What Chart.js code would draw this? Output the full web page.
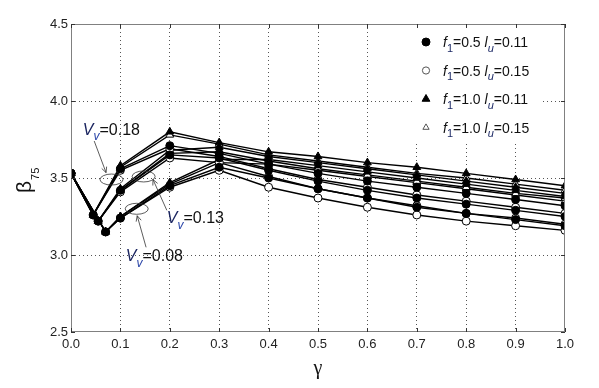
<!DOCTYPE html>
<html>
<head>
<meta charset="utf-8">
<script src="https://cdn.jsdelivr.net/npm/chart.js@4.4.0/dist/chart.umd.min.js"></script>
<style>
html,body{margin:0;padding:0;background:#fff;overflow:hidden}
#wrap{width:599px;height:388px}
</style>
</head>
<body>
<div id="wrap"><canvas id="chart" width="599" height="388"></canvas></div>
<script>
// gamma positions per vv group (the dip point sits at a slightly different gamma)
const gammaV18 = [0, 0.045, 0.1, 0.2, 0.3, 0.4, 0.5, 0.6, 0.7, 0.8, 0.9, 1.0];
const gammaV13 = [0, 0.055, 0.1, 0.2, 0.3, 0.4, 0.5, 0.6, 0.7, 0.8, 0.9, 1.0];
const gammaV08 = [0, 0.07, 0.1, 0.2, 0.3, 0.4, 0.5, 0.6, 0.7, 0.8, 0.9, 1.0];

// beta75 values
// vv = 0.18
const b18_f05_l11 = [3.53, 3.26, 3.56, 3.71, 3.66, 3.59, 3.53, 3.48, 3.44, 3.40, 3.36, 3.32];
const b18_f05_l15 = [3.53, 3.26, 3.55, 3.69, 3.64, 3.56, 3.49, 3.44, 3.39, 3.35, 3.31, 3.27];
const b18_f10_l11 = [3.53, 3.26, 3.58, 3.80, 3.73, 3.67, 3.64, 3.60, 3.57, 3.53, 3.49, 3.45];
const b18_f10_l15 = [3.53, 3.26, 3.57, 3.78, 3.72, 3.65, 3.61, 3.57, 3.53, 3.50, 3.46, 3.42];
// vv = 0.13
const b13_f05_l11 = [3.53, 3.22, 3.42, 3.65, 3.63, 3.55, 3.48, 3.42, 3.37, 3.33, 3.29, 3.25];
const b13_f05_l15 = [3.53, 3.22, 3.41, 3.63, 3.60, 3.51, 3.43, 3.37, 3.32, 3.27, 3.24, 3.20];
const b13_f10_l11 = [3.53, 3.22, 3.43, 3.68, 3.70, 3.64, 3.60, 3.56, 3.52, 3.48, 3.44, 3.40];
const b13_f10_l15 = [3.53, 3.22, 3.42, 3.66, 3.67, 3.61, 3.56, 3.52, 3.48, 3.44, 3.40, 3.37];
// vv = 0.08
const b08_f05_l11 = [3.53, 3.15, 3.24, 3.45, 3.57, 3.50, 3.43, 3.37, 3.31, 3.27, 3.23, 3.19];
const b08_f05_l15 = [3.53, 3.15, 3.24, 3.44, 3.55, 3.44, 3.37, 3.31, 3.26, 3.22, 3.19, 3.16];
const b08_f10_l11 = [3.53, 3.15, 3.25, 3.47, 3.62, 3.62, 3.58, 3.54, 3.50, 3.46, 3.42, 3.38];
const b08_f10_l15 = [3.53, 3.15, 3.25, 3.46, 3.60, 3.59, 3.55, 3.51, 3.47, 3.43, 3.39, 3.35];

// legend entries
const legendF1 = [0.5, 0.5, 1.0, 1.0];
const legendLu = [0.11, 0.15, 0.11, 0.15];

// axis ticks
const xTicks = [0, 0.1, 0.2, 0.3, 0.4, 0.5, 0.6, 0.7, 0.8, 0.9, 1.0];
const yTicks = [2.5, 3.0, 3.5, 4.0, 4.5];

// vv annotations: label anchor, ellipse centre, arrow from -> to (data coords)
const vvLabels = ["0.18", "0.13", "0.08"];
const vvLabelPos = [[0.024, 3.78], [0.194, 3.205], [0.111, 2.96]];
const vvEllipse = [[0.082, 3.49], [0.147, 3.51], [0.133, 3.30]];
const vvArrowFrom = [[0.047, 3.74], [0.194, 3.29], [0.152, 3.05]];
const vvArrowTo = [[0.071, 3.535], [0.166, 3.49], [0.134, 3.255]];

const FONT = '"Liberation Sans", Arial, sans-serif';

const markers = [
  { style: 'circle', filled: true, r: 4, order: 0 },
  { style: 'circle', filled: false, r: 4, order: 1 },
  { style: 'triangle', filled: true, r: 4.5, order: 2 },
  { style: 'triangle', filled: false, r: 4.5, order: 3 },
];

const groups = [
  { gamma: gammaV18, betas: [b18_f05_l11, b18_f05_l15, b18_f10_l11, b18_f10_l15] },
  { gamma: gammaV13, betas: [b13_f05_l11, b13_f05_l15, b13_f10_l11, b13_f10_l15] },
  { gamma: gammaV08, betas: [b08_f05_l11, b08_f05_l15, b08_f10_l11, b08_f10_l15] },
];

const datasets = [];
groups.forEach(g => {
  g.betas.forEach((b, i) => {
    const m = markers[i];
    datasets.push({
      label: 'f1=' + legendF1[i].toFixed(1) + ' lu=' + legendLu[i].toFixed(2),
      data: g.gamma.map((x, k) => ({ x: x, y: b[k] })),
      borderColor: '#000',
      borderWidth: 1.4,
      pointStyle: m.style,
      pointRadius: m.r,
      pointBackgroundColor: m.filled ? '#000' : '#fff',
      pointBorderColor: '#000',
      pointBorderWidth: 1,
      tension: 0,
      fill: false,
      order: m.order
    });
  });
});

// draw text made of parts (italic / subscript)
function richText(ctx, x, y, parts, size){
  let cx = x;
  for (const p of parts){
    const fs = p.sub ? Math.round(size * 0.78) : size;
    ctx.font = (p.it ? 'italic ' : '') + fs + 'px ' + FONT;
    ctx.fillStyle = p.color || '#111';
    ctx.fillText(p.t, cx, y + (p.sub ? size * 0.35 : 0));
    cx += ctx.measureText(p.t).width;
  }
  return cx;
}

function arrow(ctx, x1, y1, x2, y2){
  ctx.beginPath();
  ctx.moveTo(x1, y1); ctx.lineTo(x2, y2);
  ctx.stroke();
  const a = Math.atan2(y2 - y1, x2 - x1);
  const L = 6, w = 0.45;
  ctx.beginPath();
  ctx.moveTo(x2 - L * Math.cos(a - w), y2 - L * Math.sin(a - w));
  ctx.lineTo(x2, y2);
  ctx.lineTo(x2 - L * Math.cos(a + w), y2 - L * Math.sin(a + w));
  ctx.stroke();
}

const decor = {
  id: 'decor',
  afterDraw(chart){
    const ctx = chart.ctx;
    const area = chart.chartArea;
    const xs = chart.scales.x, ys = chart.scales.y;
    ctx.save();

    // legend (white box inside top-right corner)
    const lx = area.right - 152;
    ctx.fillStyle = '#fff';
    ctx.fillRect(lx, area.top + 1, 127, 116);
    ctx.textBaseline = 'alphabetic';
    ctx.textAlign = 'left';
    for (let i = 0; i < 4; i++){
      const m = markers[i];
      const ry = area.top + 18 + i * 28.5;
      ctx.fillStyle = m.filled ? '#000' : '#fff';
      ctx.strokeStyle = m.filled ? '#000' : '#555';
      ctx.lineWidth = 1;
      Chart.helpers.drawPoint(ctx, { pointStyle: m.style, radius: m.filled ? m.r : 3.6, rotation: 0, borderWidth: 1 }, lx + 13, ry);
      richText(ctx, lx + 30, ry + 5, [
        { t: 'f', it: true },
        { t: '1', sub: true, color: '#1d2a66' },
        { t: '=' + legendF1[i].toFixed(1) + ' ' },
        { t: 'l', it: true },
        { t: 'u', sub: true, it: true, color: '#1d2a66' },
        { t: '=' + legendLu[i].toFixed(2) }
      ], 14);
    }

    // frame and inward ticks
    ctx.strokeStyle = '#808080';
    ctx.lineWidth = 1;
    ctx.strokeRect(Math.round(area.left) + 0.5, Math.round(area.top) + 0.5,
      Math.round(area.right - area.left) - 1, Math.round(area.bottom - area.top) - 1);
    ctx.strokeStyle = '#333';
    ctx.beginPath();
    xTicks.forEach(v => {
      const px = Math.round(xs.getPixelForValue(v)) + 0.5;
      ctx.moveTo(px, area.top); ctx.lineTo(px, area.top + 4);
      ctx.moveTo(px, area.bottom); ctx.lineTo(px, area.bottom - 4);
    });
    yTicks.forEach(v => {
      const py = Math.round(ys.getPixelForValue(v)) + 0.5;
      ctx.moveTo(area.left, py); ctx.lineTo(area.left + 4, py);
      ctx.moveTo(area.right, py); ctx.lineTo(area.right - 4, py);
    });
    ctx.stroke();

    // vv annotations
    ctx.strokeStyle = '#333';
    ctx.lineWidth = 0.8;
    for (let i = 0; i < 3; i++){
      const ex = xs.getPixelForValue(vvEllipse[i][0]);
      const ey = ys.getPixelForValue(vvEllipse[i][1]);
      ctx.beginPath();
      ctx.ellipse(ex, ey, 11.5, 5.5, 0, 0, Math.PI * 2);
      ctx.stroke();
      arrow(ctx,
        xs.getPixelForValue(vvArrowFrom[i][0]), ys.getPixelForValue(vvArrowFrom[i][1]),
        xs.getPixelForValue(vvArrowTo[i][0]), ys.getPixelForValue(vvArrowTo[i][1]));
      richText(ctx, xs.getPixelForValue(vvLabelPos[i][0]), ys.getPixelForValue(vvLabelPos[i][1]), [
        { t: 'V', it: true, color: '#1b2560' },
        { t: 'v', sub: true, it: true, color: '#2a45a8' },
        { t: '=' + vvLabels[i] }
      ], 16);
    }

    // axis titles
    ctx.fillStyle = '#111';
    ctx.font = '20px "Liberation Serif", serif';
    ctx.textAlign = 'center';
    ctx.fillText('γ', (area.left + area.right) / 2, 374);

    ctx.translate(31, 193);
    ctx.rotate(-Math.PI / 2);
    ctx.textAlign = 'left';
    ctx.font = '21px ' + FONT;
    ctx.fillText('β', 0, 0);
    const bw = ctx.measureText('β').width;
    ctx.font = '11px ' + FONT;
    ctx.fillText('75', bw + 1, 8);
    ctx.restore();
  }
};

const tickFont = { family: FONT, size: 13 };

new Chart(document.getElementById('chart'), {
  type: 'line',
  data: { datasets: datasets },
  options: {
    responsive: false,
    animation: false,
    events: [],
    layout: { padding: { top: 24, right: 34, left: 0, bottom: 0 } },
    plugins: { legend: { display: false }, tooltip: { enabled: false } },
    scales: {
      x: {
        type: 'linear', min: 0, max: 1,
        afterBuildTicks: s => { s.ticks = xTicks.map(v => ({ value: v })); },
        afterFit: s => { s.height = 56; },
        ticks: { font: tickFont, color: '#222', padding: 5, maxRotation: 0,
          callback: v => Number(v).toFixed(1) },
        grid: { drawTicks: false, lineWidth: 1,
          color: c => (c.tick && (c.tick.value === 0 || c.tick.value === 1)) ? 'rgba(0,0,0,0)' : '#555' },
        border: { display: false, dash: [1, 3] }
      },
      y: {
        type: 'linear', min: 2.5, max: 4.5,
        afterBuildTicks: s => { s.ticks = yTicks.map(v => ({ value: v })); },
        afterFit: s => { s.width = 71; },
        ticks: { font: tickFont, color: '#222', padding: 3,
          callback: v => Number(v).toFixed(1) },
        grid: { drawTicks: false, lineWidth: 1,
          color: c => (c.tick && (c.tick.value === 2.5 || c.tick.value === 4.5)) ? 'rgba(0,0,0,0)' : '#555' },
        border: { display: false, dash: [1, 3] }
      }
    }
  },
  plugins: [decor]
});
</script>
</body>
</html>
